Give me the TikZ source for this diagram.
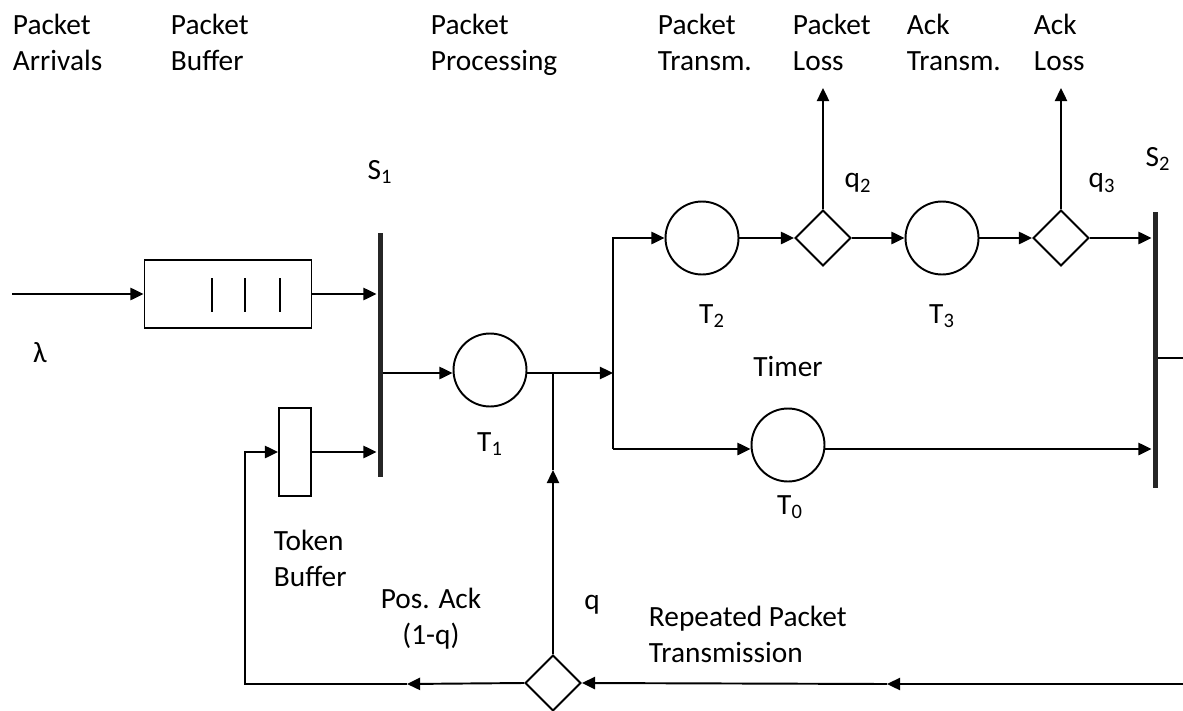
\documentclass[tikz,border=0pt]{standalone}
\usepackage{fontspec}
\setmainfont{Carlito}
\usetikzlibrary{shapes.geometric,arrows.meta,positioning,calc}

\begin{document}
\begin{tikzpicture}[x=0.02cm, y=-0.02cm, line width=1.1pt,
  >={Triangle[length=7.5pt,width=7pt]},
  place/.style={circle, draw, minimum size=1.46cm, inner sep=0pt},
  choice/.style={diamond, draw, aspect=1, minimum size=1.12cm, inner sep=0pt},
  bar/.style={fill=black!85, draw=none, minimum width=0.1cm, inner sep=0pt},
  lbl/.style={font=\fontsize{16.7}{20.4}\selectfont, align=left, inner sep=0pt}]
  \useasboundingbox (0,0) rectangle (1183,710);

  % top captions
  \node[lbl, anchor=north west] (capArr) at (12,13) {Packet\\Arrivals};
  \node[lbl, anchor=north west] (capBuf) at (170,13) {Packet\\Buffer};
  \node[lbl, anchor=north west] (capProc) at (430,13) {Packet\\Processing};
  \node[lbl, anchor=north west] (capTx) at (657,13) {Packet\\Transm.};
  \node[lbl, anchor=north west] (capLoss) at (792,13) {Packet\\Loss};
  \node[lbl, anchor=north west] (capAckTx) at (906,13) {Ack\\Transm.};
  \node[lbl, anchor=north west] (capAckLoss) at (1033,13) {Ack\\Loss};

  % buffers and synchronisation bars
  \node[draw, minimum width=3.34cm, minimum height=1.36cm, inner sep=0pt] (pbuf) at (228,294) {};
  \foreach \x in {212,245,280}
    \draw (\x,278) -- (\x,312);
  \node[draw, minimum width=0.64cm, minimum height=1.76cm, inner sep=0pt] (tbuf) at (295,452) {};
  \node[bar, minimum height=4.9cm] (s1) at (380,355) {};
  \node[bar, minimum height=5.52cm] (s2) at (1155,350) {};

  % timed places
  \node[place] (t1) at (490,370) {};
  \node[place] (t2) at (702,238) {};
  \node[place] (t3) at (942,238) {};
  \node[place] (t0) at (788,445) {};

  % branch points
  \node[choice] (q2) at (823,238) {};
  \node[choice] (q3) at (1061,238) {};
  \node[choice] (qq) at (553,683) {};

  % labels
  \node[lbl] (lamLbl) at (40,353) {λ};
  \node[lbl] (s1Lbl) at (380,172) {S\textsubscript{1}};
  \node[lbl] (s2Lbl) at (1158,159) {S\textsubscript{2}};
  \node[lbl] (t1Lbl) at (490,444) {T\textsubscript{1}};
  \node[lbl] (t2Lbl) at (712,316) {T\textsubscript{2}};
  \node[lbl] (t3Lbl) at (942,316) {T\textsubscript{3}};
  \node[lbl] (t0Lbl) at (790,507) {T\textsubscript{0}};
  \node[lbl] (timerLbl) at (788,367) {Timer};
  \node[lbl] (q2Lbl) at (858,183) {q\textsubscript{2}};
  \node[lbl] (q3Lbl) at (1102,183) {q\textsubscript{3}};
  \node[lbl] (qLbl) at (592,605) {q};
  \node[lbl, anchor=west] (tokLbl) at (273,558) {Token\\Buffer};
  \node[lbl, align=center] (ackLbl) at (431,619) {Pos. Ack\\(1-q)};
  \node[lbl, anchor=west] (repLbl) at (648,634) {Repeated Packet\\Transmission};

  % free ends
  \coordinate (in) at (12,294);
  \coordinate (fork) at (613,373);
  \coordinate (fbot) at (613,449);
  \coordinate (loss2) at (823,88);
  \coordinate (loss3) at (1061,88);
  \coordinate (out) at (1183,358);
  \coordinate (back) at (1183,684);
  \coordinate (m1) at (887,684);
  \coordinate (m2) at (553,470);
  \coordinate (m3) at (407,684);
  \coordinate (corner) at (245,684);

  % forward connectors
  \draw[->] (in) -- (pbuf.west);
  \draw[->] (pbuf.east) -- (pbuf.east -| s1.west);
  \draw[->] (tbuf.east) -- (tbuf.east -| s1.west);
  \draw[->] (s1.east |- fork) -- (t1.west |- fork);
  \draw[->] (t1.east |- fork) -- (fork);
  \draw[->] (fbot) |- (t2.west);
  \draw[->] (fbot) -- (t0.west |- fbot);
  \draw[->] (t2.east) -- (q2.west);
  \draw[->] (q2.north) -- (loss2);
  \draw[->] (q2.east) -- (t3.west);
  \draw[->] (t3.east) -- (q3.west);
  \draw[->] (q3.north) -- (loss3);
  \draw[->] (q3.east) -- (q3.east -| s2.west);
  \draw[->] (t0.east |- fbot) -- (fbot -| s2.west);
  \draw (s2.east |- out) -- (out);

  % feedback
  \draw[->] (back) -- (m1);
  \draw[->] (m1) -- (qq.east);
  \draw[->] (qq.north) -- (m2);
  \draw (m2) -- (qq.north |- fork);
  \draw[->] (qq.west) -- (m3);
  \draw[->] (m3) -- (corner) |- (tbuf.west);
\end{tikzpicture}
\end{document}
